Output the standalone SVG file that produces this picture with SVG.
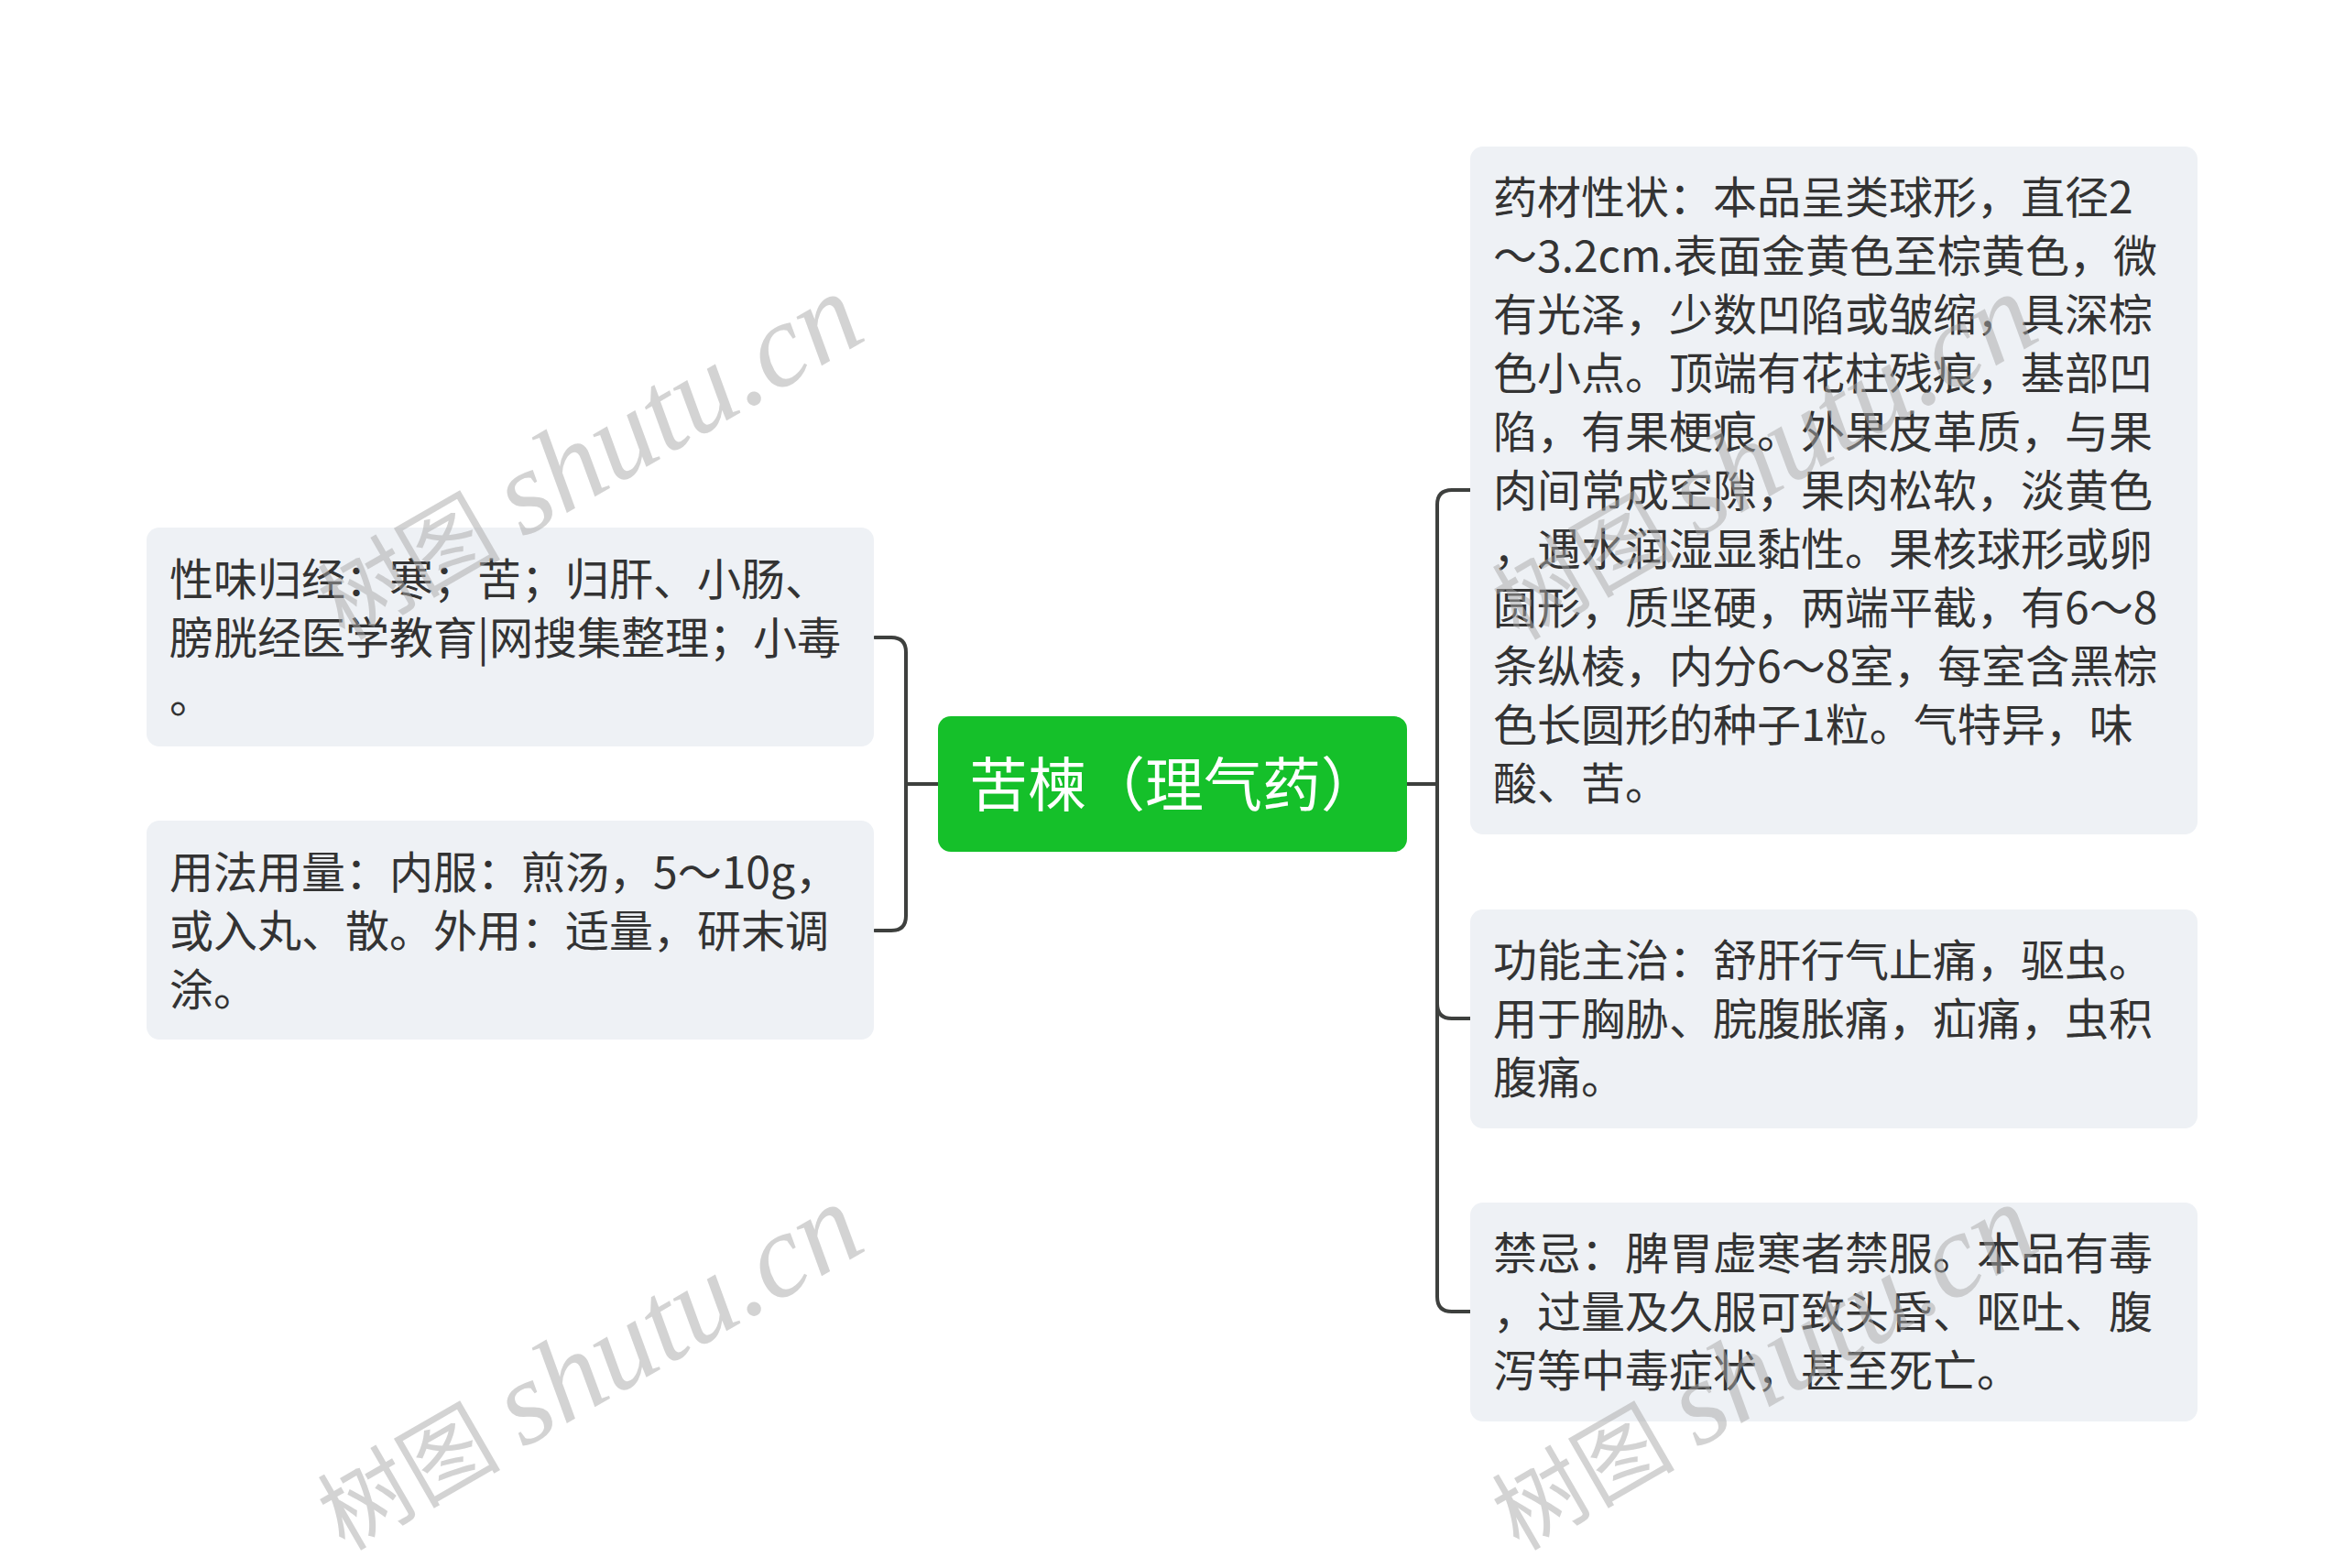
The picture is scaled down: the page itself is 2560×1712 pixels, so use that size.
<svg xmlns="http://www.w3.org/2000/svg" width="2560" height="1712" viewBox="0 0 2560 1712">
<style>
.box{fill:#EEF1F5}
.t{font-family:"Noto Sans CJK SC","Noto Sans",sans-serif;font-size:48px;fill:#333333}
.ct{font-family:"Noto Sans CJK SC","Noto Sans",sans-serif;font-size:64px;fill:#FFFFFF}
.ln{fill:none;stroke:#3E403E;stroke-width:4;stroke-linecap:round}
.wm{font-family:"Liberation Serif","Noto Sans CJK SC",serif;font-size:100px;fill:#A8A8A8;fill-opacity:0.5}
.wl{font-style:italic;font-size:130px}
</style>
<rect width="2560" height="1712" fill="#FFFFFF"/>
<g id="connectors">
<path class="ln" d="M1024,856 H989 V712 Q989,696 973,696 H955"/>
<path class="ln" d="M1024,856 H989 V1000 Q989,1016 973,1016 H955"/>
<path class="ln" d="M1536,856 H1569 V551 Q1569,535 1585,535 H1605"/>
<path class="ln" d="M1536,856 H1569 V1096 Q1569,1112 1585,1112 H1605"/>
<path class="ln" d="M1536,856 H1569 V1416 Q1569,1432 1585,1432 H1605"/>
</g>
<g id="center">
<rect x="1024" y="782" width="512" height="148" rx="14" fill="#15C02A"/>
<text class="ct" x="1058" y="880">苦楝（理气药）</text>
</g>
<g id="left1">
<rect class="box" x="160" y="576" width="794" height="239" rx="14"/>
<text class="t" x="185" y="650">性味归经：寒；苦；归肝、小肠、</text>
<text class="t" x="185" y="714">膀胱经医学教育|网搜集整理；小毒</text>
<text class="t" x="185" y="778">。</text>
</g>
<g id="left2">
<rect class="box" x="160" y="896" width="794" height="239" rx="14"/>
<text class="t" x="185" y="970">用法用量：内服：煎汤，5～10g，</text>
<text class="t" x="185" y="1034">或入丸、散。外用：适量，研末调</text>
<text class="t" x="185" y="1098">涂。</text>
</g>
<g id="right1">
<rect class="box" x="1605" y="160" width="794" height="751" rx="14"/>
<text class="t" x="1630" y="233">药材性状：本品呈类球形，直径2</text>
<text class="t" x="1630" y="297">～3.2cm.表面金黄色至棕黄色，微</text>
<text class="t" x="1630" y="361">有光泽，少数凹陷或皱缩，具深棕</text>
<text class="t" x="1630" y="425">色小点。顶端有花柱残痕，基部凹</text>
<text class="t" x="1630" y="489">陷，有果梗痕。外果皮革质，与果</text>
<text class="t" x="1630" y="553">肉间常成空隙，果肉松软，淡黄色</text>
<text class="t" x="1630" y="617">，遇水润湿显黏性。果核球形或卵</text>
<text class="t" x="1630" y="681">圆形，质坚硬，两端平截，有6～8</text>
<text class="t" x="1630" y="745">条纵棱，内分6～8室，每室含黑棕</text>
<text class="t" x="1630" y="809">色长圆形的种子1粒。气特异，味</text>
<text class="t" x="1630" y="873">酸、苦。</text>
</g>
<g id="right2">
<rect class="box" x="1605" y="993" width="794" height="239" rx="14"/>
<text class="t" x="1630" y="1066">功能主治：舒肝行气止痛，驱虫。</text>
<text class="t" x="1630" y="1130">用于胸胁、脘腹胀痛，疝痛，虫积</text>
<text class="t" x="1630" y="1194">腹痛。</text>
</g>
<g id="right3">
<rect class="box" x="1605" y="1313" width="794" height="239" rx="14"/>
<text class="t" x="1630" y="1386">禁忌：脾胃虚寒者禁服。本品有毒</text>
<text class="t" x="1630" y="1450">，过量及久服可致头昏、呕吐、腹</text>
<text class="t" x="1630" y="1514">泻等中毒症状，甚至死亡。</text>
</g>
<g id="watermarks">
<text class="wm" transform="translate(376,700) rotate(-30)">树图 <tspan class="wl">shutu.cn</tspan></text>
<text class="wm" transform="translate(376,1694) rotate(-30)">树图 <tspan class="wl">shutu.cn</tspan></text>
<text class="wm" transform="translate(1658,700) rotate(-30)">树图 <tspan class="wl">shutu.cn</tspan></text>
<text class="wm" transform="translate(1658,1694) rotate(-30)">树图 <tspan class="wl">shutu.cn</tspan></text>
</g>
</svg>
